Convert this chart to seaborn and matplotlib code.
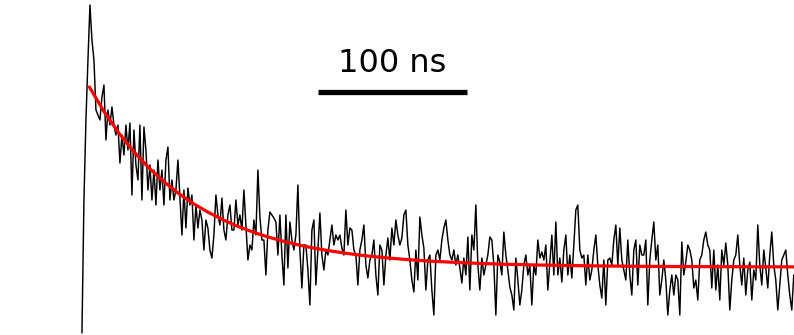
import numpy as np
import pandas as pd
import matplotlib
matplotlib.use("Agg")
import matplotlib.pyplot as plt
import seaborn as sns

# ---- data (time in ns, intensity in arbitrary units, baseline = 0) ----
dt_ns = 1.342  # sampling interval of the recorded trace

trace_values = [
    -66, 67, 147, 207,
    262, 227, 207, 157, 152, 147, 170, 182, 127, 157, 142, 160, 142, 132, 142, 104,
    132, 112, 142, 117, 144, 72, 137, 102, 87, 142, 67, 140, 117, 77, 102, 67,
    97, 62, 107, 77, 97, 62, 107, 120, 67,
    87, 67, 77, 107, 70, 32, 77, 39, 79, 62, 72, 27, 62, 39, 57, 47, 17, 47, 39, 17,
    9, 32, 72, 52, 42, 69, 37, 27, 52, 62, 37, 37, 67, 42, 52, 37, 77, 42, 7, 22,
    17, 47, 32, 97, 50,
    27, 27, -8, 37, 55, 52, 49, 45, 12, 52, 12, -18, 52, -1, 45, 27, 17, 32, 82, 17,
    -21, 22, 22, -3, -38, 37, 47, -18, 17, 54, 12, -3, 17, 12, 27, 42, 22, 32, 27, 32,
    19, 12, 57, 22, 39,
    37, 17, 12, -18, 17, 27, 42, 2, -11, 7, 12, 27, -8, -28, 22, 17, -18, 12, 29, 7,
    39, 22, 47, 32, 22, 29, 52, 57, 22, 7, -13, -25, 17, -13, 50, 32, 19, -23, 7, 12,
    -23, -48, 12, 17, 7,
    27, 39, 47, 27, 12, 7, 17, 2, 12, -1, -16, 9, -8, 30, -23, 32, 17, 62, 2, -23,
    9, -8, 2, 12, 30, 27, 2, -48, 12, 5, -8, 35, 12, -3, -20, -28, -43, 9, -13, -38,
    -23, 2, 12, -8, 2,
    -38, 2, -8, 27, 9, 15, 7, 22, -23, 5, 32, -8, 45, -8, 9, -15, 17, 32, -8, 12,
    -11, 22, 57, 62, 17, 9, 12, -18, 12, -13, -3, 17, 32, 2, -18, -31, 7, -38, 7, 9,
    2, 27, 42, 2, 39,
    7, -3, -13, 27, -8, -28, 17, 27, -18, 22, 12, 12, 27, -38, 7, 27, 45, 7, 22, -28,
    -13, 7, -13, -48, -23, -8, -28, -8, -13, -48, 25, -8, 5, 22, 17, 7, -21, -13, -33, 7,
    12, 27, 35, 22, 17,
    -21, 17, -23, 2, -33, 17, 2, 24, 2, -43, -13, 7, 12, 32, 2, -18, 9, -28, -3, 5,
    -33, -3, -13, 42, 2, -18, 17, -1, -21, 12, 35, 2, -13, -43, -18, 7, 12, 17, -8, -28,
    -43, -8,
]

fit_time = [5, 15, 25, 35, 45, 55, 65, 75, 85, 95, 105, 115, 125, 135, 145, 155,
            165, 175, 185, 195, 205, 215, 225, 235, 245, 255, 265, 275, 285, 295,
            305, 315, 325, 335, 345, 355, 365, 375, 385, 395, 405, 415, 425, 435,
            445, 455, 465, 478]
fit_values = [180, 155, 133.5, 115, 99, 85.3, 73.4, 63.2, 54.5, 46.9, 40.4, 34.8,
              30.0, 25.8, 22.2, 19.1, 16.5, 14.2, 12.2, 10.5, 9.1, 7.8, 6.7, 5.8,
              5.0, 4.3, 3.7, 3.2, 2.7, 2.4, 2.0, 1.8, 1.5, 1.3, 1.1, 0.95, 0.8, 0.7,
              0.6, 0.5, 0.45, 0.4, 0.3, 0.3, 0.25, 0.2, 0.2, 0.1]

scalebar_ns = [158.4, 258.4]
scalebar_level = 175
scalebar_label = "100 ns"

# ---- build tables ----
trace = pd.DataFrame({
    "time": np.arange(len(trace_values)) * dt_ns,
    "signal": trace_values,
})
fit = pd.DataFrame({"time": fit_time, "signal": fit_values})

sns.set_theme(style="white")
plt.rcParams["font.family"] = ["DejaVu Sans"]

fig = plt.figure(figsize=(7.94, 3.35), dpi=100)
ax = fig.add_axes([0, 0, 1, 1])

sns.lineplot(data=trace, x="time", y="signal", ax=ax, color="black",
             linewidth=1.05, estimator=None)
sns.lineplot(data=fit, x="time", y="signal", ax=ax, color="#ff0000",
             linewidth=2.3, estimator=None)

# scale bar
ax.plot(scalebar_ns, [scalebar_level, scalebar_level], color="black",
        linewidth=3.8, solid_capstyle="butt")
ax.text(sum(scalebar_ns) / 2, 195, scalebar_label, ha="center", va="baseline",
        fontsize=23, color="black")

ax.set_xlim(-55.0, 477.9)
ax.set_ylim(-68, 267)
ax.axis("off")

fig.savefig("out.png", dpi=100, facecolor="white")
